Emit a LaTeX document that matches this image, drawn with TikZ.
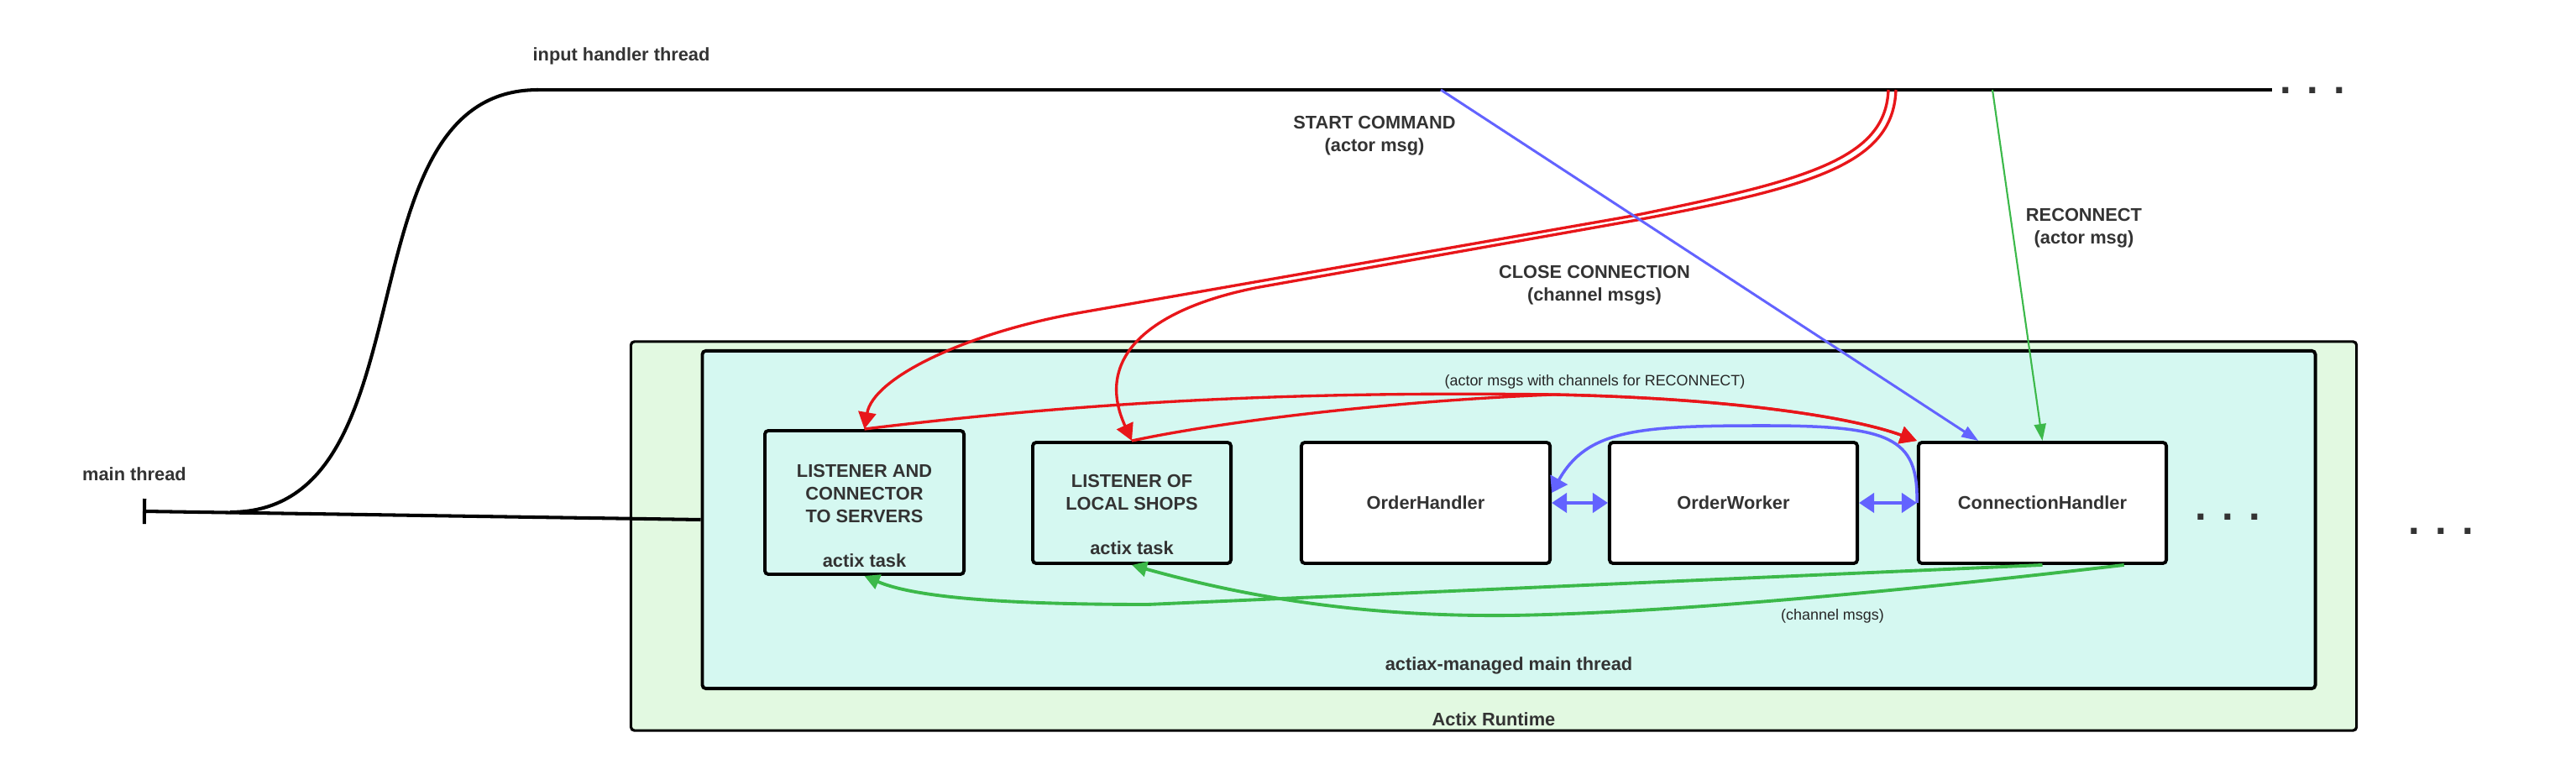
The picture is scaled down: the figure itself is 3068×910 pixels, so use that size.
\documentclass[tikz,border=0pt]{standalone}
\usepackage{fontspec}
\setmainfont{Liberation Sans}
\usetikzlibrary{arrows.meta,calc}
\definecolor{txtgray}{HTML}{333333}
\definecolor{msgred}{HTML}{E8161A}
\definecolor{msgblue}{HTML}{6363FF}
\definecolor{msggreen}{HTML}{3CB94A}
\definecolor{rtgreen}{HTML}{E2F9E1}
\definecolor{mtcyan}{HTML}{D5F8F1}
\tikzset{
  lbl/.style={text=txtgray,font=\fontsize{6.2}{7.7}\selectfont\bfseries,align=center,inner sep=0pt},
  notelbl/.style={text=black!85,font=\fontsize{5.1}{6}\selectfont,inner sep=0pt},
  moredots/.style={text=txtgray,font=\fontsize{14}{14}\selectfont\bfseries,inner sep=0pt},
  box/.style={draw,line width=1.1pt,rounded corners=1.2pt,inner sep=0pt},
  actorbox/.style={box,fill=white,lbl,minimum width=2.95cm,minimum height=1.44cm},
  thread/.style={line width=1.15pt},
  closemsg/.style={draw=msgred,line width=0.95pt,-{Triangle[length=2mm,width=2.1mm]}},
  startmsg/.style={draw=msgblue,line width=0.85pt,-{Triangle[length=2mm,width=1.4mm]}},
  peer/.style={draw=msgblue,line width=1.1pt,{Triangle[length=1.8mm,width=2.3mm]}-{Triangle[length=1.8mm,width=2.3mm]}},
  reconn/.style={draw=msggreen,line width=0.6pt,-{Triangle[length=2mm,width=1.4mm]}},
  chanmsg/.style={draw=msggreen,line width=1.1pt,-{Triangle[length=1.8mm,width=1.8mm]}}
}
\begin{document}
\begin{tikzpicture}[x=0.01cm,y=-0.01cm]
  \useasboundingbox (0,0) rectangle (3068,910);

  \node[box,fill=rtgreen,line width=0.9pt,minimum width=20.54cm,minimum height=4.63cm] (runtime) at (1779,638.5) {};
  \node[box,fill=mtcyan,minimum width=19.2cm,minimum height=4.02cm] (inner) at (1797,619) {};
  \node[lbl] (runtimeT) at (1779,857) {Actix Runtime};
  \node[lbl] (innerT) at (1797,793) {actiax-managed main thread};

  \node[box,minimum width=2.37cm,minimum height=1.71cm] (lac) at (1029.5,598.5) {};
  \node[box,minimum width=2.36cm,minimum height=1.44cm] (lls) at (1348,599) {};
  \node[actorbox,minimum width=2.96cm] (oh) at (1698,599) {OrderHandler};
  \node[actorbox] (ow) at (2064.5,599) {OrderWorker};
  \node[actorbox] (ch) at (2432.5,599) {ConnectionHandler};
  \node[lbl] (lacT) at (1029.5,588) {LISTENER AND\\CONNECTOR\\TO SERVERS};
  \node[lbl] (lacA) at (1029.5,668) {actix task};
  \node[lbl] (llsT) at (1348,586.5) {LISTENER OF\\LOCAL SHOPS};
  \node[lbl] (llsA) at (1348,653) {actix task};

  \node[lbl] (ihT) at (740,67) {input handler thread};
  \node[lbl] (mtT) at (160,565) {main thread};
  \node[lbl] (scT) at (1637,161.5) {START COMMAND\\(actor msg)};
  \node[lbl] (rcT) at (2482,271.5) {RECONNECT\\(actor msg)};
  \node[lbl] (ccT) at (1899,339.5) {CLOSE CONNECTION\\(channel msgs)};
  \node[notelbl] (amT) at (1899.5,455) {(actor msgs with channels for RECONNECT)};
  \node[notelbl] (cmT) at (2182.5,734) {(channel msgs)};
  \node[moredots] (moreT) at (2754,108) {. . .};
  \node[moredots] (moreI) at (2653,616) {. . .};
  \node[moredots] (moreO) at (2907,633) {. . .};

  % threads
  \coordinate (ih) at (641,107);
  \coordinate (ihE) at (2706,107);
  \coordinate (mt) at (170,609);
  \coordinate (fork) at (274,610);
  \draw[thread] (ih) -- (ihE);
  \draw[thread,{Bar[width=3mm]}-] (mt) -- (inner.west);
  \draw[thread] (fork) .. controls (520,610) and (400,107) .. (ih);

  \coordinate (sc) at (1716,107);
  \coordinate (cc1) at (2249,107);
  \coordinate (cc2) at (2258,107);
  \coordinate (rc) at (2373,107);

  \draw[closemsg] (cc1) .. controls (2246,190) and (2150,215) .. (1945,257) -- (1283,373) .. controls (1150,397) and (1040,450) .. (lac.north);
  \draw[closemsg] (cc2) .. controls (2255,195) and (2160,222) .. (1950,262) -- (1500,342) .. controls (1380,365) and (1300,420) .. (lls.north);
  \draw[closemsg] (lac.north) .. controls (1300,478) and (1550,466) .. (1850,470) .. controls (2050,474) and (2200,495) .. (ch.north west);
  \draw[closemsg] (lls.north) .. controls (1450,503) and (1650,478) .. (1850,470) .. controls (2050,474) and (2200,495) .. (ch.north west);

  \draw[startmsg] (sc) -- ($(ch.north west)!0.245!(ch.north east)$);
  \draw[peer] (oh.east) -- (ow.west);
  \draw[peer] (ow.east) -- (ch.west);
  \draw[startmsg,line width=1pt,-{Triangle[length=1.8mm,width=2.3mm]}] (ch.west) .. controls (2285,520) and (2250,507) .. (2100,507) .. controls (1950,507) and (1890,512) .. ($(oh.east)+(0,-12)$);

  \draw[reconn] (rc) -- (ch.north);
  \draw[chanmsg] (ch.south) -- (1367,720) .. controls (1200,720) and (1090,712) .. (lac.south);
  \draw[chanmsg] ($(ch.south)!0.65!(ch.south east)$) .. controls (2300,700) and (2000,730) .. (1800,733) .. controls (1620,735) and (1480,710) .. (lls.south);
\end{tikzpicture}
\end{document}
